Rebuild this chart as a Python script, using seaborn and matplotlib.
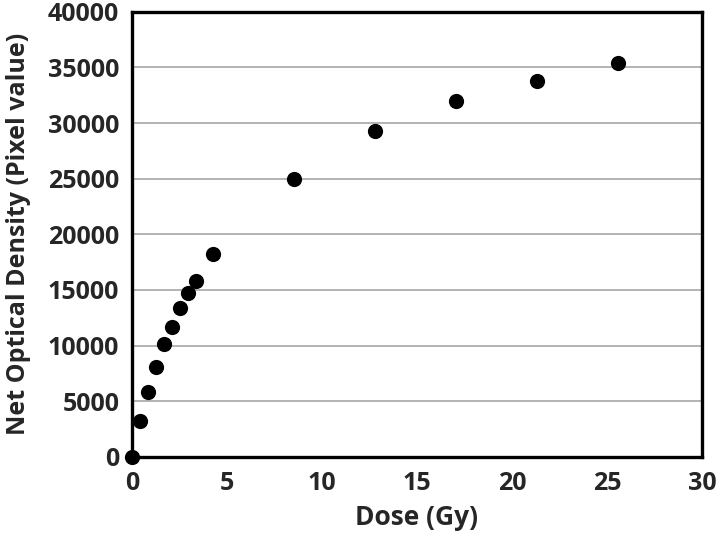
import matplotlib
matplotlib.use('Agg')
import matplotlib.pyplot as plt
import seaborn as sns
import pandas as pd

# 剂量与净光密度
dose_gy = [0, 0.43, 0.85, 1.28, 1.70, 2.13, 2.55, 2.98, 3.40, 4.26, 8.52, 12.78, 17.04, 21.30, 25.56]
net_od = [0, 3200, 5800, 8100, 10150, 11650, 13400, 14700, 15800, 18200, 24950, 29300, 31950, 33800, 35400]

x_ticks = [0, 5, 10, 15, 20, 25, 30]
y_ticks = [0, 5000, 10000, 15000, 20000, 25000, 30000, 35000, 40000]

df = pd.DataFrame({'dose': dose_gy, 'od': net_od})

sns.set_style('white')
plt.rcParams['font.family'] = ['Open Sans', 'DejaVu Sans']
plt.rcParams['font.weight'] = 'bold'

fig = plt.figure(figsize=(7.2, 5.38), dpi=100)
ax = fig.add_axes([0.183, 0.151, 0.792, 0.827])

for y in y_ticks[1:-1]:
    ax.axhline(y, color='#b3b3b3', lw=1.4, zorder=0)

sns.scatterplot(data=df, x='dose', y='od', ax=ax, s=120, color='black',
                edgecolor='black', linewidth=0, clip_on=False, zorder=5)

ax.set_xlim(0, 30)
ax.set_ylim(0, 40000)
ax.set_xticks(x_ticks)
ax.set_yticks(y_ticks)
ax.set_xticklabels([str(t) for t in x_ticks], fontsize=18, fontweight='bold')
ax.set_yticklabels([str(t) for t in y_ticks], fontsize=18, fontweight='bold')
ax.tick_params(axis='x', direction='in', length=5, width=0.8, color='#999999', pad=10)
ax.tick_params(axis='y', length=0, pad=9)

for sp in ax.spines.values():
    sp.set_visible(True)
    sp.set_color('black')
    sp.set_linewidth(2.4)

ax.set_xlabel('Dose (Gy)', fontsize=19, fontweight='bold', labelpad=6)
ax.set_ylabel('Net Optical Density (Pixel value)', fontsize=18, fontweight='bold', labelpad=12)

fig.savefig('out.png', dpi=100)
